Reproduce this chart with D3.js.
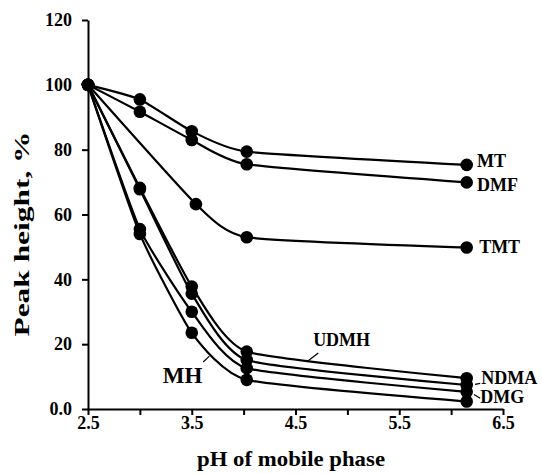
<!DOCTYPE html>
<html>
<head>
<meta charset="utf-8">
<script src="https://cdn.jsdelivr.net/npm/d3@7"></script>
<style>
  html, body { margin: 0; padding: 0; background: #fff; }
  svg { display: block; }
  text { font-family: "Liberation Serif", "Times New Roman", serif; font-weight: bold; fill: #000; }
</style>
</head>
<body>
<svg id="chart" width="542" height="474"></svg>
<script>
// ---- data ----
const phValues = [2.5, 3.0, 3.5, 4.03, 6.15];
const phTMT = [2.5, 3.54, 4.03, 6.15];
const mtValues = [100, 95.5, 85.7, 79.4, 75.3];
const dmfValues = [100, 91.7, 83.0, 75.5, 69.9];
const tmtValues = [100, 63.2, 53.0, 49.8];
const udmhValues = [100, 68.2, 37.8, 17.7, 9.5];
const ndmaValues = [100, 67.8, 35.6, 15.1, 7.4];
const dmgValues = [100, 55.5, 30.0, 12.6, 5.3];
const mhValues = [100, 54.0, 23.5, 9.0, 2.3];
const xTicks = [2.5, 3.0, 3.5, 4.0, 4.5, 5.0, 5.5, 6.0, 6.5];
const xTickLabels = ["2.5", "", "3.5", "", "4.5", "", "5.5", "", "6.5"];
const yTicks = [0, 20, 40, 60, 80, 100, 120];
const yTickLabels = ["0.0", "20", "40", "60", "80", "100", "120"];

const series = [
  { name: "MT", x: phValues, y: mtValues },
  { name: "DMF", x: phValues, y: dmfValues },
  { name: "TMT", x: phTMT, y: tmtValues },
  { name: "UDMH", x: phValues, y: udmhValues },
  { name: "NDMA", x: phValues, y: ndmaValues },
  { name: "DMG", x: phValues, y: dmgValues },
  { name: "MH", x: phValues, y: mhValues }
];

// label annotations in data coordinates (pH, value at text baseline)
const labels = [
  { text: "MT", px: 6.25, py: 74.6, size: 18 },
  { text: "DMF", px: 6.25, py: 67.3, size: 18 },
  { text: "TMT", px: 6.27, py: 48.1, size: 18 },
  { text: "UDMH", px: 4.67, py: 19.4, size: 18 },
  { text: "NDMA", px: 6.29, py: 7.7, size: 18 },
  { text: "DMG", px: 6.28, py: 1.85, size: 18 },
  { text: "MH", px: 3.22, py: 7.9, size: 23 }
];
const pointers = [
  { x1: 4.72, y1: 17.3, x2: 4.61, y2: 14.6 },
  { x1: 6.23, y1: 7.6, x2: 6.28, y2: 7.9 },
  { x1: 6.22, y1: 4.5, x2: 6.28, y2: 3.3 },
  { x1: 3.61, y1: 14.5, x2: 3.67, y2: 16.3 }
];

// ---- chart ----
const svg = d3.select("#chart");
const x = d3.scaleLinear().domain([2.5, 6.5]).range([88, 503]);
const y = d3.scaleLinear().domain([0, 120]).range([409, 20]);

// axes
const xAxis = d3.axisBottom(x).tickValues(xTicks)
  .tickFormat((d, i) => xTickLabels[i]).tickSize(6).tickSizeOuter(0).tickPadding(14);
const yAxis = d3.axisLeft(y).tickValues(yTicks)
  .tickFormat((d, i) => yTickLabels[i]).tickSize(6).tickSizeOuter(0).tickPadding(10);

const gx = svg.append("g").attr("transform", `translate(0,${y(0)})`).call(xAxis);
const gy = svg.append("g").attr("transform", `translate(${x(2.5)},0)`).call(yAxis);
[gx, gy].forEach(g => {
  g.selectAll("path, line").attr("stroke", "#000").attr("stroke-width", 2);
  g.selectAll("text").style("font-size", "18px").style("font-family", "'Liberation Serif', serif")
    .style("font-weight", "bold").attr("fill", "#000");
});
gx.selectAll("text").attr("dy", "0");

// lines
const line = d3.line()
  .x(d => x(d[0])).y(d => y(d[1]))
  .curve(d3.curveCardinal.tension(0.5));

series.forEach(s => {
  const pts = s.x.map((v, i) => [v, s.y[i]]);
  svg.append("path").datum(pts)
    .attr("d", line).attr("fill", "none").attr("stroke", "#000").attr("stroke-width", 2.2);
  svg.append("g").selectAll("circle").data(pts).join("circle")
    .attr("cx", d => x(d[0])).attr("cy", d => y(d[1])).attr("r", 6.3).attr("fill", "#000");
});

// labels
svg.append("g").selectAll("text").data(labels).join("text")
  .attr("x", d => x(d.px)).attr("y", d => y(d.py))
  .style("font-size", d => d.size + "px")
  .text(d => d.text);

svg.append("g").selectAll("line").data(pointers).join("line")
  .attr("x1", d => x(d.x1)).attr("y1", d => y(d.y1))
  .attr("x2", d => x(d.x2)).attr("y2", d => y(d.y2))
  .attr("stroke", "#000").attr("stroke-width", 1.2);

// axis titles
svg.append("text").attr("x", 291).attr("y", 466).attr("text-anchor", "middle")
  .style("font-size", "21px").attr("textLength", 188).attr("lengthAdjust", "spacingAndGlyphs")
  .text("pH of mobile phase");
svg.append("text").attr("transform", "translate(29,234) rotate(-90)").attr("text-anchor", "middle")
  .style("font-size", "21px").attr("textLength", 205).attr("lengthAdjust", "spacingAndGlyphs")
  .text("Peak height, %");
</script>
</body>
</html>
